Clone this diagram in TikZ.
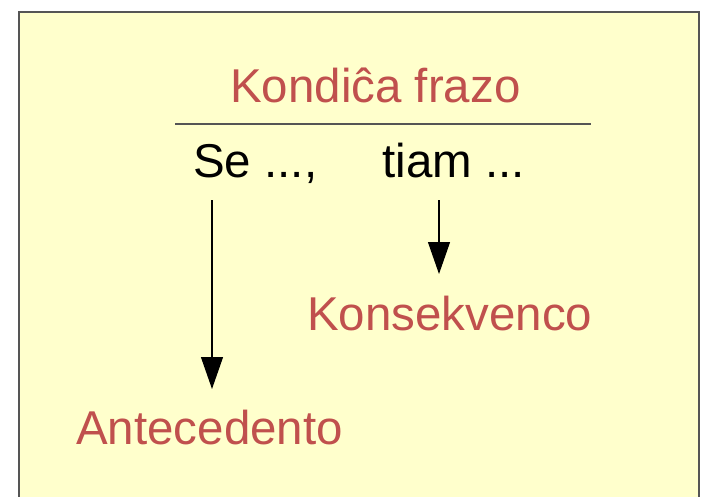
\documentclass[tikz,border=0pt]{standalone}
\usepackage{fontspec}
\setmainfont{Liberation Sans}
\usetikzlibrary{arrows.meta}
\definecolor{frameFill}{HTML}{FFFFCC}
\definecolor{frameDraw}{HTML}{555555}
\definecolor{accent}{HTML}{C0504D}
\begin{document}
\begin{tikzpicture}[x=0.75pt,y=-0.75pt,
  txt/.style={inner sep=0pt,anchor=base west,font=\fontsize{35.6pt}{40pt}\selectfont},
  redtxt/.style={txt,text=accent},
  blktxt/.style={txt,text=black},
  arr/.style={line width=0.9pt,-{Triangle[length=24pt,width=16.5pt]}}]
\useasboundingbox (0,0) rectangle (706,496);
\clip (0,0) rectangle (706,496);
\draw[frameDraw,fill=frameFill,line width=1.3pt] (19,12) rectangle (699,530);
\node[redtxt] (title) at (230,102) {Kondiĉa frazo};
\draw[frameDraw,line width=1pt] (175,124) -- (591,124);
\node[blktxt] (se) at (193,177) {Se ...,};
\node[blktxt] (tiam) at (382,177) {tiam ...};
\node[redtxt] (kons) at (307,330) {Konsekvenco};
\node[redtxt] (ante) at (76,444) {Antecedento};
\coordinate (a1s) at (212,200);
\coordinate (a1e) at (212,389);
\coordinate (a2s) at (439,200);
\coordinate (a2e) at (439,274);
\draw[arr] (a1s) -- (a1e);
\draw[arr] (a2s) -- (a2e);
\end{tikzpicture}
\end{document}
